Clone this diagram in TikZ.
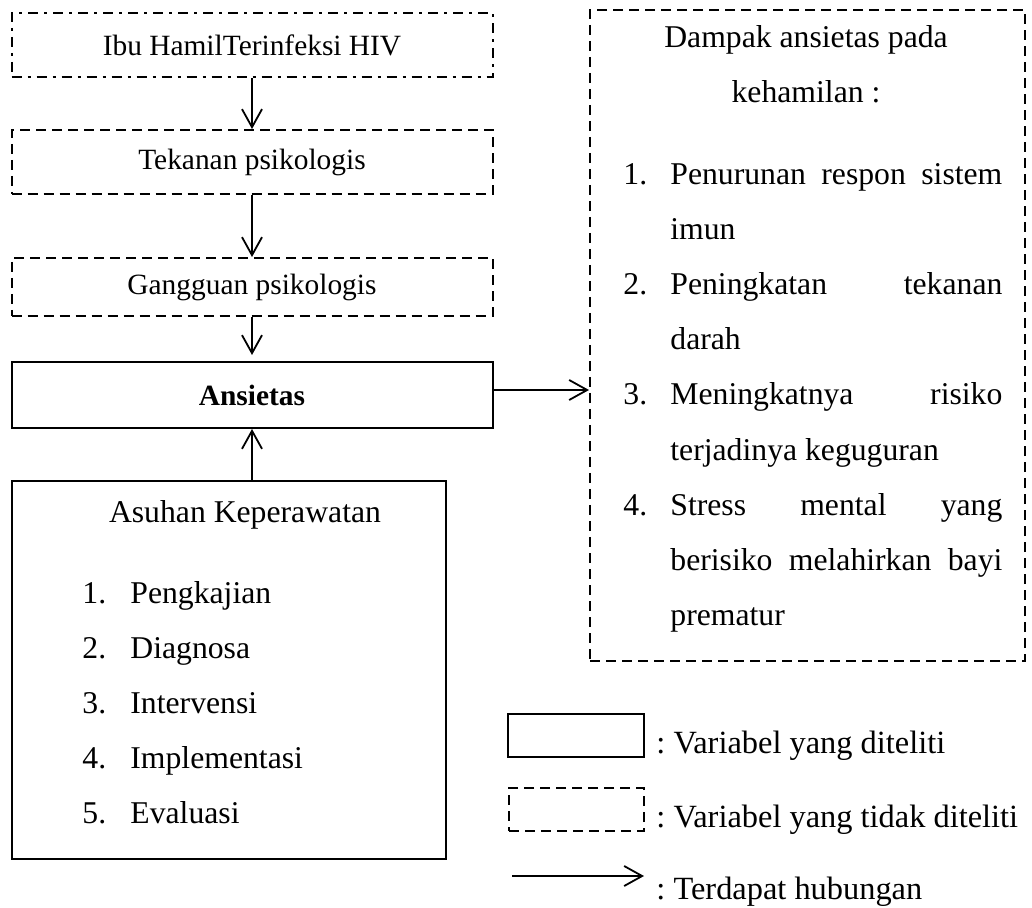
\documentclass[tikz,border=0pt]{standalone}
\usepackage{fontspec}
\setmainfont{Liberation Serif}
\usetikzlibrary{arrows.meta, positioning}
\frenchspacing

\newcommand{\fkecil}{\fontsize{14.7}{17.6}\selectfont}
\newcommand{\fbesar}{\fontsize{15.85}{19}\selectfont}
\newcommand{\fket}{\fontsize{16.2}{19.4}\selectfont}

\begin{document}
\begin{tikzpicture}[
            x=0.5pt, y=-0.5pt,
            var/.style={rectangle, draw, line width=1pt, inner sep=0pt,
                        minimum width=240.5pt, minimum height=32pt, font=\fkecil},
            novar/.style={var, dash pattern=on 5pt off 3pt},
            novardot/.style={var, dash pattern=on 5pt off 3pt on 1.5pt off 3pt},
            txt/.style={inner sep=0pt, anchor=base west, font=\fbesar},
            ket/.style={inner sep=0pt, anchor=base west, font=\fket},
            arrow/.style={-{Straight Barb[length=9pt, width=10pt]}, line width=0.9pt}
        ]
            \useasboundingbox (0,0) rectangle (1032,908);

            % Left column
            \node[novardot] (ibu) at (252,45) {Ibu HamilTerinfeksi HIV};
            \node[novar, below=25.5pt of ibu] (tekanan) {Tekanan psikologis};
            \node[novar, minimum height=29pt, below=31pt of tekanan] (gangguan) {Gangguan psikologis};
            \node[var, minimum height=33pt, font=\fkecil\bfseries, below=22pt of gangguan] (ansietas) {Ansietas};
            \node[var, minimum width=217pt, minimum height=189pt, anchor=north west]
                (asuhan) at ([yshift=-25.5pt]ansietas.south west) {};

            % Asuhan keperawatan
            \node[txt, anchor=base] (asjudul) at (245,522) {Asuhan Keperawatan};
            \foreach \t [count=\i] in {Pengkajian, Diagnosa, Intervensi, Implementasi, Evaluasi} {
                \node[txt] (asnum\i) at (82,548+55*\i) {\i.};
                \node[txt] (asitem\i) at (130,548+55*\i) {\t};
            }

            % Dampak ansietas
            \node[novar, minimum width=217.5pt, minimum height=325.5pt, anchor=north west] (dampak) at (589,9) {};
            \node[txt, anchor=base] (djudul1) at (806,48) {Dampak ansietas pada};
            \node[txt, anchor=base] (djudul2) at (806,103) {kehamilan :};
            \foreach \i/\y in {1/185, 2/295, 3/405, 4/515}
                \node[txt] (dnum\i) at (623,\y) {\i.};
            \node[txt] (d1a) at (670,185) {\makebox[166pt][s]{Penurunan respon sistem}};
            \node[txt] (d1b) at (670,240) {imun};
            \node[txt] (d2a) at (670,295) {\makebox[166pt][s]{Peningkatan tekanan}};
            \node[txt] (d2b) at (670,350) {darah};
            \node[txt] (d3a) at (670,405) {\makebox[166pt][s]{Meningkatnya risiko}};
            \node[txt] (d3b) at (670,460) {terjadinya keguguran};
            \node[txt] (d4a) at (670,515) {\makebox[166pt][s]{Stress mental yang}};
            \node[txt] (d4b) at (670,570) {\makebox[166pt][s]{berisiko melahirkan bayi}};
            \node[txt] (d4c) at (670,625) {prematur};

            % Arrows
            \draw[arrow] (ibu) -- (tekanan);
            \draw[arrow] (tekanan) -- (gangguan);
            \draw[arrow, shorten >=3pt] (gangguan) -- (ansietas);
            \draw[arrow] (asuhan.north -| ansietas) -- (ansietas);
            \draw[arrow] ([yshift=2.5pt]ansietas.east) -- ([yshift=2.5pt]ansietas.east -| dampak.west);

            % Legend
            \node[var, minimum width=68pt, minimum height=21.5pt] (legvar) at (576,735.5) {};
            \node[ket] (ketvar) at (656,753) {: Variabel yang diteliti};
            \node[novar, minimum width=67.5pt, minimum height=21.5pt] (legnovar) at (576.5,809.5) {};
            \node[ket] (ketnovar) at (656,827) {: Variabel yang tidak diteliti};
            \coordinate (legA) at (512,876);
            \coordinate (legB) at (644,876);
            \draw[arrow] (legA) -- (legB);
            \node[ket] (kethub) at (656,899) {: Terdapat hubungan};
        \end{tikzpicture}
\end{document}
